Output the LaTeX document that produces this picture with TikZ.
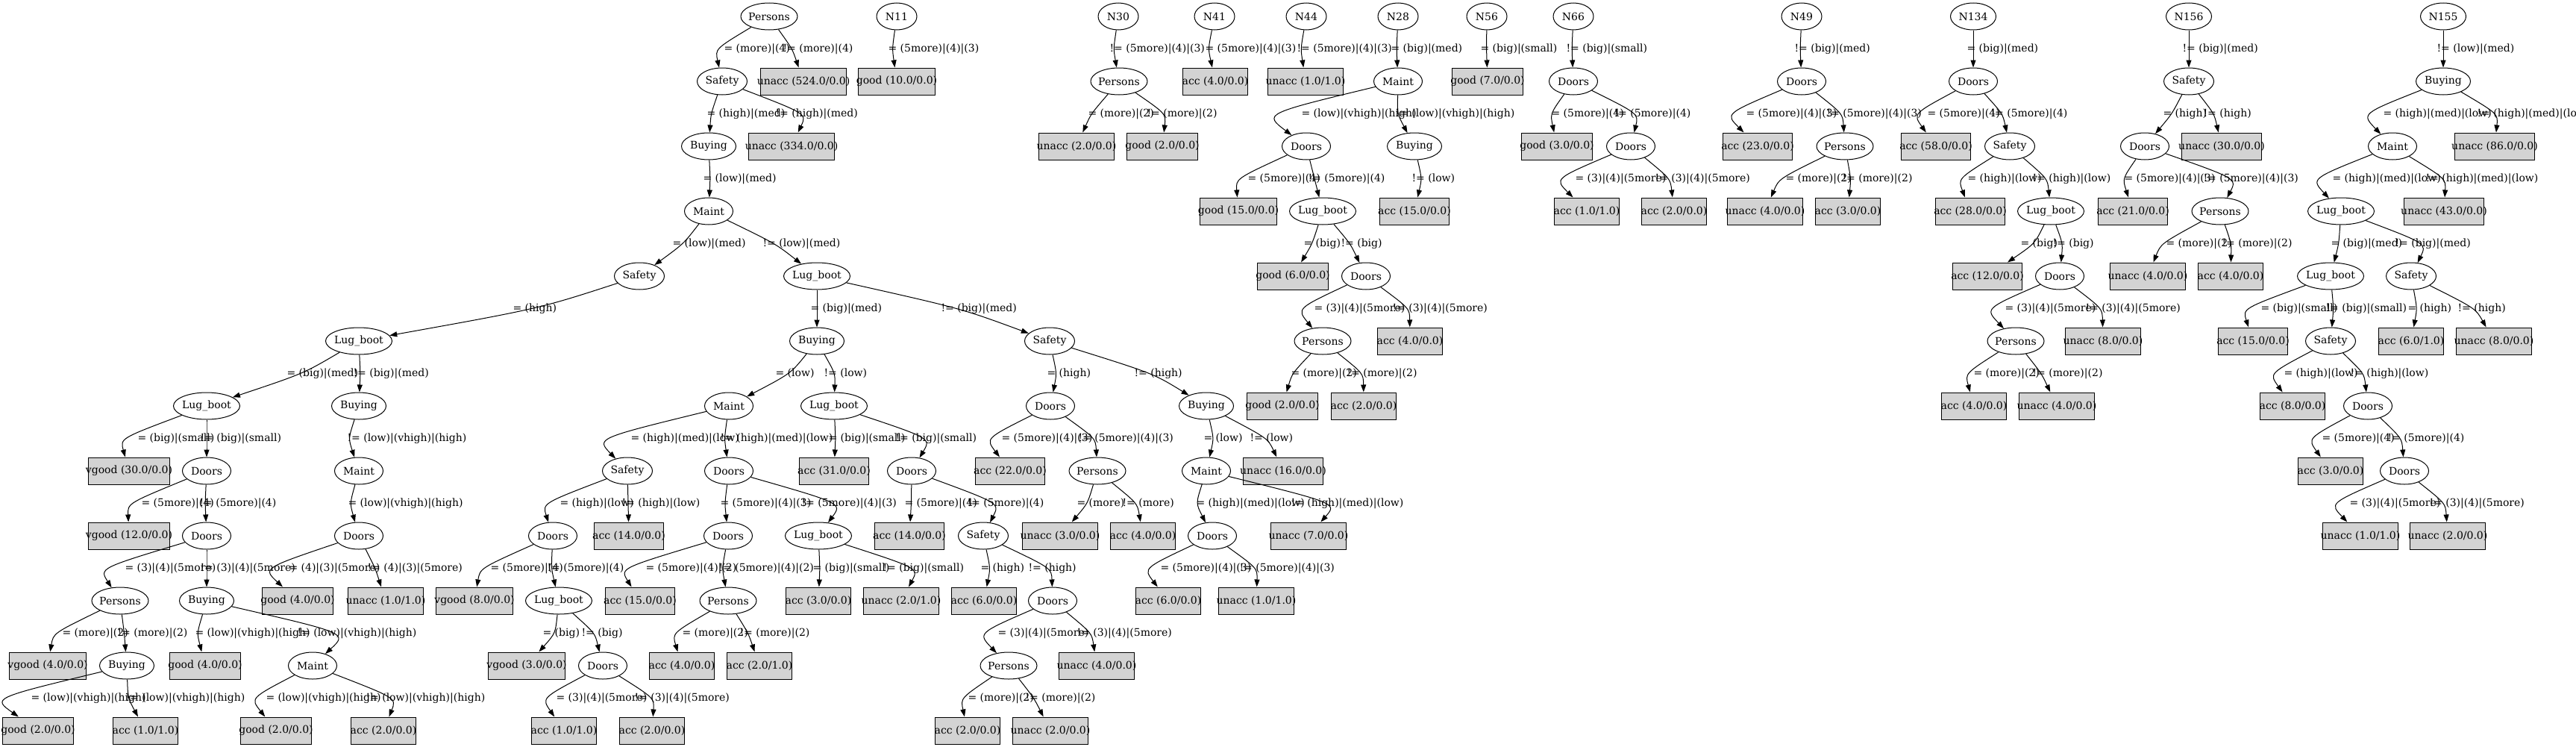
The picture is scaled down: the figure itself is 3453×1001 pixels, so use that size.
\documentclass[tikz,border=0pt]{standalone}
\usepackage{fontspec}
\setmainfont{DejaVu Serif}
\usetikzlibrary{shapes.geometric,arrows.meta,calc}
\definecolor{leafgray}{HTML}{D3D3D3}

% text that may stick out of its node
\newcommand{\zw}[1]{\makebox[0pt]{#1}}
% branch: from, to, label x, label
\newcommand{\tedge}[4]{%
  \path ($(#1)!0.5!(#2)$) coordinate (mid);
  \path (#3+9,0 |- mid) coordinate (via);
  \node[cond] (lab) at (#3,0 |- mid) {#4};
  \draw[branch] (#1) .. controls ($2*(via)-0.5*(#1)-0.5*(#2)$) .. (#2);
}

\begin{document}
\begin{tikzpicture}[x=1pt,y=-1pt,line width=1pt,font=\fontsize{14pt}{17pt}\selectfont,
  attr/.style={draw,ellipse,fill=white,inner sep=0pt,minimum height=36pt,minimum width=#1},
  leaf/.style={draw,fill=leafgray,inner sep=0pt,minimum height=36pt,minimum width=#1},
  cond/.style={anchor=west,inner sep=0pt},
  branch/.style={-{Triangle[length=10pt,width=7pt]}}]
\useasboundingbox (0,0) rectangle (3453,1001);

% tree rooted at Persons
\node[attr=76pt] (aPer) at (1031,22) {\zw{Persons}};
\node[attr=67pt] (aSaf) at (968,109) {\zw{Safety}};
\node[leaf=114.4pt] (aU524) at (1077,109) {\zw{unacc (524.0/0.0)}};
\node[attr=73pt] (aBuy) at (950,196) {\zw{Buying}};
\node[leaf=114.4pt] (aU334) at (1061,196) {\zw{unacc (334.0/0.0)}};
\node[attr=65pt] (aMai) at (950,283) {\zw{Maint}};
\node[attr=67pt] (aSaf2) at (857,370) {\zw{Safety}};
\node[attr=89pt] (aLug) at (1095,370) {\zw{Lug\_boot}};
\node[attr=89pt] (aLug2) at (481,457) {\zw{Lug\_boot}};
\node[attr=73pt] (aBuy2) at (1095,457) {\zw{Buying}};
\node[attr=67pt] (aSaf3) at (1407,457) {\zw{Safety}};
\node[attr=89pt] (aLug3) at (277,544) {\zw{Lug\_boot}};
\node[attr=73pt] (aBuy3) at (481,544) {\zw{Buying}};
\node[attr=65pt] (aMai2) at (977,544) {\zw{Maint}};
\node[attr=89pt] (aLug4) at (1118,544) {\zw{Lug\_boot}};
\node[attr=65pt] (aDoo) at (1408,544) {\zw{Doors}};
\node[attr=73pt] (aBuy4) at (1617,544) {\zw{Buying}};
\node[leaf=109.7pt] (aV30) at (173,631) {\zw{vgood (30.0/0.0)}};
\node[attr=65pt] (aDoo2) at (277,631) {\zw{Doors}};
\node[attr=65pt] (aMai3) at (481,631) {\zw{Maint}};
\node[attr=67pt] (aSaf4) at (841,631) {\zw{Safety}};
\node[attr=65pt] (aDoo3) at (977,631) {\zw{Doors}};
\node[leaf=93.4pt] (aA31) at (1118,631) {\zw{acc (31.0/0.0)}};
\node[attr=65pt] (aDoo4) at (1222,631) {\zw{Doors}};
\node[leaf=93.4pt] (aA22) at (1354,631) {\zw{acc (22.0/0.0)}};
\node[attr=76pt] (aPer2) at (1471,631) {\zw{Persons}};
\node[attr=65pt] (aMai4) at (1617,631) {\zw{Maint}};
\node[leaf=107.4pt] (aU16) at (1720,631) {\zw{unacc (16.0/0.0)}};
\node[leaf=109.7pt] (aV12) at (173,718) {\zw{vgood (12.0/0.0)}};
\node[attr=65pt] (aDoo5) at (277,718) {\zw{Doors}};
\node[attr=65pt] (aDoo6) at (481,718) {\zw{Doors}};
\node[attr=65pt] (aDoo7) at (741,718) {\zw{Doors}};
\node[leaf=93.4pt] (aA14) at (843,718) {\zw{acc (14.0/0.0)}};
\node[attr=65pt] (aDoo8) at (976,718) {\zw{Doors}};
\node[attr=89pt] (aLug5) at (1097,718) {\zw{Lug\_boot}};
\node[leaf=93.4pt] (aA14b) at (1219,718) {\zw{acc (14.0/0.0)}};
\node[attr=67pt] (aSaf5) at (1318,718) {\zw{Safety}};
\node[leaf=100.4pt] (aU3) at (1421,718) {\zw{unacc (3.0/0.0)}};
\node[leaf=86.4pt] (aA4) at (1532,718) {\zw{acc (4.0/0.0)}};
\node[attr=65pt] (aDoo9) at (1625,718) {\zw{Doors}};
\node[leaf=100.4pt] (aU7) at (1754,718) {\zw{unacc (7.0/0.0)}};
\node[attr=76pt] (aPer3) at (161,805) {\zw{Persons}};
\node[attr=73pt] (aBuy5) at (277,805) {\zw{Buying}};
\node[leaf=95.7pt] (aG4) at (399,805) {\zw{good (4.0/0.0)}};
\node[leaf=100.4pt] (aU1) at (517,805) {\zw{unacc (1.0/1.0)}};
\node[leaf=102.7pt] (aV8) at (636,805) {\zw{vgood (8.0/0.0)}};
\node[attr=89pt] (aLug6) at (749,805) {\zw{Lug\_boot}};
\node[leaf=93.4pt] (aA15) at (858,805) {\zw{acc (15.0/0.0)}};
\node[attr=76pt] (aPer4) at (976,805) {\zw{Persons}};
\node[leaf=86.4pt] (aA3) at (1097,805) {\zw{acc (3.0/0.0)}};
\node[leaf=100.4pt] (aU21) at (1208,805) {\zw{unacc (2.0/1.0)}};
\node[leaf=86.4pt] (aA6) at (1319,805) {\zw{acc (6.0/0.0)}};
\node[attr=65pt] (aDoo10) at (1411,805) {\zw{Doors}};
\node[leaf=86.4pt] (aA6b) at (1566,805) {\zw{acc (6.0/0.0)}};
\node[leaf=100.4pt] (aU1b) at (1684,805) {\zw{unacc (1.0/1.0)}};
\node[leaf=102.7pt] (aV4) at (64,892) {\zw{vgood (4.0/0.0)}};
\node[attr=73pt] (aBuy6) at (170,892) {\zw{Buying}};
\node[leaf=95.7pt] (aG4b) at (275,892) {\zw{good (4.0/0.0)}};
\node[attr=65pt] (aMai5) at (419,892) {\zw{Maint}};
\node[leaf=102.7pt] (aV3) at (706,892) {\zw{vgood (3.0/0.0)}};
\node[attr=65pt] (aDoo11) at (808,892) {\zw{Doors}};
\node[leaf=86.4pt] (aA4b) at (914,892) {\zw{acc (4.0/0.0)}};
\node[leaf=86.4pt] (aA21) at (1018,892) {\zw{acc (2.0/1.0)}};
\node[attr=76pt] (aPer5) at (1352,892) {\zw{Persons}};
\node[leaf=100.4pt] (aU4) at (1470,892) {\zw{unacc (4.0/0.0)}};
\node[leaf=95.7pt] (aG2) at (51,979) {\zw{good (2.0/0.0)}};
\node[leaf=86.4pt] (aA11) at (195,979) {\zw{acc (1.0/1.0)}};
\node[leaf=95.7pt] (aG2b) at (370,979) {\zw{good (2.0/0.0)}};
\node[leaf=86.4pt] (aA2) at (514,979) {\zw{acc (2.0/0.0)}};
\node[leaf=86.4pt] (aA11b) at (756,979) {\zw{acc (1.0/1.0)}};
\node[leaf=86.4pt] (aA2b) at (874,979) {\zw{acc (2.0/0.0)}};
\node[leaf=86.4pt] (aA2c) at (1297,979) {\zw{acc (2.0/0.0)}};
\node[leaf=100.4pt] (aU2) at (1408,979) {\zw{unacc (2.0/0.0)}};

\tedge{aPer}{aSaf}{970}{= (more)|(4)}
\tedge{aPer}{aU524}{1049}{!= (more)|(4)}
\tedge{aSaf}{aBuy}{947}{= (high)|(med)}
\tedge{aSaf}{aU334}{1039}{!= (high)|(med)}
\tedge{aBuy}{aMai}{942}{= (low)|(med)}
\tedge{aMai}{aSaf2}{901}{= (low)|(med)}
\tedge{aMai}{aLug}{1022}{!= (low)|(med)}
\tedge{aSaf2}{aLug2}{687}{= (high)}
\tedge{aLug}{aBuy2}{1086}{= (big)|(med)}
\tedge{aLug}{aSaf3}{1261}{!= (big)|(med)}
\tedge{aLug2}{aLug3}{384}{= (big)|(med)}
\tedge{aLug2}{aBuy3}{473}{!= (big)|(med)}
\tedge{aBuy2}{aMai2}{1039}{= (low)}
\tedge{aBuy2}{aLug4}{1104}{!= (low)}
\tedge{aSaf3}{aDoo}{1403}{= (high)}
\tedge{aSaf3}{aBuy4}{1520}{!= (high)}
\tedge{aLug3}{aV30}{184}{= (big)|(small)}
\tedge{aLug3}{aDoo2}{268}{!= (big)|(small)}
\tedge{aBuy3}{aMai3}{465}{!= (low)|(vhigh)|(high)}
\tedge{aMai2}{aSaf4}{845}{= (high)|(med)|(low)}
\tedge{aMai2}{aDoo3}{965}{!= (high)|(med)|(low)}
\tedge{aLug4}{aA31}{1110}{= (big)|(small)}
\tedge{aLug4}{aDoo4}{1200}{!= (big)|(small)}
\tedge{aDoo}{aA22}{1342}{= (5more)|(4)|(3)}
\tedge{aDoo}{aPer2}{1445}{!= (5more)|(4)|(3)}
\tedge{aBuy4}{aMai4}{1613}{= (low)}
\tedge{aBuy4}{aU16}{1675}{!= (low)}
\tedge{aDoo2}{aV12}{189}{= (5more)|(4)}
\tedge{aDoo2}{aDoo5}{267}{!= (5more)|(4)}
\tedge{aMai3}{aDoo6}{466}{= (low)|(vhigh)|(high)}
\tedge{aSaf4}{aDoo7}{750}{= (high)|(low)}
\tedge{aSaf4}{aA14}{833}{!= (high)|(low)}
\tedge{aDoo3}{aDoo8}{965}{= (5more)|(4)|(3)}
\tedge{aDoo3}{aLug5}{1074}{!= (5more)|(4)|(3)}
\tedge{aDoo4}{aA14b}{1212}{= (5more)|(4)}
\tedge{aDoo4}{aSaf5}{1296}{!= (5more)|(4)}
\tedge{aPer2}{aU3}{1443}{= (more)}
\tedge{aPer2}{aA4}{1504}{!= (more)}
\tedge{aMai4}{aDoo9}{1603}{= (high)|(med)|(low)}
\tedge{aMai4}{aU7}{1730}{!= (high)|(med)|(low)}
\tedge{aDoo5}{aPer3}{167}{= (3)|(4)|(5more)}
\tedge{aDoo5}{aBuy5}{268}{!= (3)|(4)|(5more)}
\tedge{aDoo6}{aG4}{387}{= (4)|(3)|(5more)}
\tedge{aDoo6}{aU1}{492}{!= (4)|(3)|(5more)}
\tedge{aDoo7}{aV8}{657}{= (5more)|(4)}
\tedge{aDoo7}{aLug6}{733}{!= (5more)|(4)}
\tedge{aDoo8}{aA15}{865}{= (5more)|(4)|(2)}
\tedge{aDoo8}{aPer4}{963}{!= (5more)|(4)|(2)}
\tedge{aLug5}{aA3}{1089}{= (big)|(small)}
\tedge{aLug5}{aU21}{1183}{!= (big)|(small)}
\tedge{aSaf5}{aA6}{1314}{= (high)}
\tedge{aSaf5}{aDoo10}{1378}{!= (high)}
\tedge{aDoo9}{aA6b}{1555}{= (5more)|(4)|(3)}
\tedge{aDoo9}{aU1b}{1661}{!= (5more)|(4)|(3)}
\tedge{aPer3}{aV4}{83}{= (more)|(2)}
\tedge{aPer3}{aBuy6}{157}{!= (more)|(2)}
\tedge{aBuy5}{aG4b}{261}{= (low)|(vhigh)|(high)}
\tedge{aBuy5}{aMai5}{398}{!= (low)|(vhigh)|(high)}
\tedge{aLug6}{aV3}{727}{= (big)}
\tedge{aLug6}{aDoo11}{779}{!= (big)}
\tedge{aPer4}{aA4b}{914}{= (more)|(2)}
\tedge{aPer4}{aA21}{991}{!= (more)|(2)}
\tedge{aDoo10}{aPer5}{1337}{= (3)|(4)|(5more)}
\tedge{aDoo10}{aU4}{1443}{!= (3)|(4)|(5more)}
\tedge{aBuy6}{aG2}{41}{= (low)|(vhigh)|(high)}
\tedge{aBuy6}{aA11}{168}{!= (low)|(vhigh)|(high)}
\tedge{aMai5}{aG2b}{356}{= (low)|(vhigh)|(high)}
\tedge{aMai5}{aA2}{490}{!= (low)|(vhigh)|(high)}
\tedge{aDoo11}{aA11b}{745}{= (3)|(4)|(5more)}
\tedge{aDoo11}{aA2b}{850}{!= (3)|(4)|(5more)}
\tedge{aPer5}{aA2c}{1297}{= (more)|(2)}
\tedge{aPer5}{aU2}{1374}{!= (more)|(2)}

% the small trees
\node[attr=54pt] (bN) at (1202,22) {\zw{N11}};
\node[leaf=102.7pt] (bG) at (1202,109) {\zw{good (10.0/0.0)}};
\tedge{bN}{bG}{1190}{= (5more)|(4)|(3)}

\node[attr=54pt] (cN) at (1499,22) {\zw{N30}};
\node[attr=76pt] (cPer) at (1500,109) {\zw{Persons}};
\node[leaf=100.4pt] (cU) at (1443,196) {\zw{unacc (2.0/0.0)}};
\node[leaf=95.7pt] (cG) at (1558,196) {\zw{good (2.0/0.0)}};
\tedge{cN}{cPer}{1487}{!= (5more)|(4)|(3)}
\tedge{cPer}{cU}{1458}{= (more)|(2)}
\tedge{cPer}{cG}{1537}{!= (more)|(2)}

\node[attr=54pt] (dN) at (1628,22) {\zw{N41}};
\node[leaf=86.4pt] (dA) at (1629,109) {\zw{acc (4.0/0.0)}};
\tedge{dN}{dA}{1615}{= (5more)|(4)|(3)}

\node[attr=54pt] (eN) at (1751,22) {\zw{N44}};
\node[leaf=100.4pt] (eU) at (1750,109) {\zw{unacc (1.0/1.0)}};
\tedge{eN}{eU}{1738}{!= (5more)|(4)|(3)}

\node[attr=54pt] (fN) at (1874,22) {\zw{N28}};
\node[attr=65pt] (fMai) at (1874,109) {\zw{Maint}};
\node[attr=65pt] (fDoo) at (1751,196) {\zw{Doors}};
\node[attr=73pt] (fBuy) at (1896,196) {\zw{Buying}};
\node[leaf=102.7pt] (fG15) at (1660,283) {\zw{good (15.0/0.0)}};
\node[attr=89pt] (fLug) at (1773,283) {\zw{Lug\_boot}};
\node[leaf=93.4pt] (fA15) at (1896,283) {\zw{acc (15.0/0.0)}};
\node[leaf=95.7pt] (fG6) at (1733,370) {\zw{good (6.0/0.0)}};
\node[attr=65pt] (fDoo2) at (1831,370) {\zw{Doors}};
\node[attr=76pt] (fPer) at (1773,457) {\zw{Persons}};
\node[leaf=86.4pt] (fA4) at (1890,457) {\zw{acc (4.0/0.0)}};
\node[leaf=95.7pt] (fG2) at (1719,544) {\zw{good (2.0/0.0)}};
\node[leaf=86.4pt] (fA2) at (1828,544) {\zw{acc (2.0/0.0)}};
\tedge{fN}{fMai}{1864}{= (big)|(med)}
\tedge{fMai}{fDoo}{1744}{= (low)|(vhigh)|(high)}
\tedge{fMai}{fBuy}{1870}{!= (low)|(vhigh)|(high)}
\tedge{fDoo}{fG15}{1672}{= (5more)|(4)}
\tedge{fDoo}{fLug}{1753}{!= (5more)|(4)}
\tedge{fBuy}{fA15}{1892}{!= (low)}
\tedge{fLug}{fG6}{1747}{= (big)}
\tedge{fLug}{fDoo2}{1797}{!= (big)}
\tedge{fDoo2}{fPer}{1761}{= (3)|(4)|(5more)}
\tedge{fDoo2}{fA4}{1866}{!= (3)|(4)|(5more)}
\tedge{fPer}{fG2}{1730}{= (more)|(2)}
\tedge{fPer}{fA2}{1805}{!= (more)|(2)}

\node[attr=54pt] (gN) at (1993,22) {\zw{N56}};
\node[leaf=95.7pt] (gG) at (1994,109) {\zw{good (7.0/0.0)}};
\tedge{gN}{gG}{1984}{= (big)|(small)}

\node[attr=54pt] (hN) at (2109,22) {\zw{N66}};
\node[attr=65pt] (hDoo) at (2109,109) {\zw{Doors}};
\node[leaf=95.7pt] (hG) at (2087,196) {\zw{good (3.0/0.0)}};
\node[attr=65pt] (hDoo2) at (2186,196) {\zw{Doors}};
\node[leaf=86.4pt] (hA1) at (2127,283) {\zw{acc (1.0/1.0)}};
\node[leaf=86.4pt] (hA2) at (2244,283) {\zw{acc (2.0/0.0)}};
\tedge{hN}{hDoo}{2099}{!= (big)|(small)}
\tedge{hDoo}{hG}{2079}{= (5more)|(4)}
\tedge{hDoo}{hDoo2}{2163}{!= (5more)|(4)}
\tedge{hDoo2}{hA1}{2111}{= (3)|(4)|(5more)}
\tedge{hDoo2}{hA2}{2218}{!= (3)|(4)|(5more)}

\node[attr=54pt] (iN) at (2415,22) {\zw{N49}};
\node[attr=65pt] (iDoo) at (2415,109) {\zw{Doors}};
\node[leaf=93.4pt] (iA23) at (2356,196) {\zw{acc (23.0/0.0)}};
\node[attr=76pt] (iPer) at (2473,196) {\zw{Persons}};
\node[leaf=100.4pt] (iU4) at (2366,283) {\zw{unacc (4.0/0.0)}};
\node[leaf=86.4pt] (iA3) at (2477,283) {\zw{acc (3.0/0.0)}};
\tedge{iN}{iDoo}{2405}{!= (big)|(med)}
\tedge{iDoo}{iA23}{2340}{= (5more)|(4)|(3)}
\tedge{iDoo}{iPer}{2448}{!= (5more)|(4)|(3)}
\tedge{iPer}{iU4}{2393}{= (more)|(2)}
\tedge{iPer}{iA3}{2469}{!= (more)|(2)}

\node[attr=61pt] (jN) at (2645,22) {\zw{N134}};
\node[attr=65pt] (jDoo) at (2645,109) {\zw{Doors}};
\node[leaf=93.4pt] (jA58) at (2595,196) {\zw{acc (58.0/0.0)}};
\node[attr=67pt] (jSaf) at (2694,196) {\zw{Safety}};
\node[leaf=93.4pt] (jA28) at (2641,283) {\zw{acc (28.0/0.0)}};
\node[attr=89pt] (jLug) at (2749,283) {\zw{Lug\_boot}};
\node[leaf=93.4pt] (jA12) at (2664,370) {\zw{acc (12.0/0.0)}};
\node[attr=65pt] (jDoo2) at (2761,370) {\zw{Doors}};
\node[attr=76pt] (jPer) at (2702,457) {\zw{Persons}};
\node[leaf=100.4pt] (jU8) at (2819,457) {\zw{unacc (8.0/0.0)}};
\node[leaf=86.4pt] (jA4) at (2646,544) {\zw{acc (4.0/0.0)}};
\node[leaf=100.4pt] (jU4) at (2757,544) {\zw{unacc (4.0/0.0)}};
\tedge{jN}{jDoo}{2636}{= (big)|(med)}
\tedge{jDoo}{jA58}{2583}{= (5more)|(4)}
\tedge{jDoo}{jSaf}{2668}{!= (5more)|(4)}
\tedge{jSaf}{jA28}{2637}{= (high)|(low)}
\tedge{jSaf}{jLug}{2724}{!= (high)|(low)}
\tedge{jLug}{jA12}{2708}{= (big)}
\tedge{jLug}{jDoo2}{2751}{!= (big)}
\tedge{jDoo2}{jPer}{2687}{= (3)|(4)|(5more)}
\tedge{jDoo2}{jU8}{2795}{!= (3)|(4)|(5more)}
\tedge{jPer}{jA4}{2645}{= (more)|(2)}
\tedge{jPer}{jU4}{2724}{!= (more)|(2)}

\node[attr=61pt] (kN) at (2934,22) {\zw{N156}};
\node[attr=67pt] (kSaf) at (2934,109) {\zw{Safety}};
\node[attr=65pt] (kDoo) at (2875,196) {\zw{Doors}};
\node[leaf=107.4pt] (kU30) at (2978,196) {\zw{unacc (30.0/0.0)}};
\node[leaf=93.4pt] (kA21) at (2859,283) {\zw{acc (21.0/0.0)}};
\node[attr=76pt] (kPer) at (2976,283) {\zw{Persons}};
\node[leaf=100.4pt] (kU4) at (2879,370) {\zw{unacc (4.0/0.0)}};
\node[leaf=86.4pt] (kA4) at (2990,370) {\zw{acc (4.0/0.0)}};
\tedge{kN}{kSaf}{2925}{!= (big)|(med)}
\tedge{kSaf}{kDoo}{2899}{= (high)}
\tedge{kSaf}{kU30}{2953}{!= (high)}
\tedge{kDoo}{kA21}{2847}{= (5more)|(4)|(3)}
\tedge{kDoo}{kPer}{2953}{!= (5more)|(4)|(3)}
\tedge{kPer}{kU4}{2903}{= (more)|(2)}
\tedge{kPer}{kA4}{2978}{!= (more)|(2)}

\node[attr=61pt] (lN) at (3275,22) {\zw{N155}};
\node[attr=73pt] (lBuy) at (3275,109) {\zw{Buying}};
\node[attr=65pt] (lMai) at (3207,196) {\zw{Maint}};
\node[leaf=107.4pt] (lU86) at (3344,196) {\zw{unacc (86.0/0.0)}};
\node[attr=89pt] (lLug) at (3138,283) {\zw{Lug\_boot}};
\node[leaf=107.4pt] (lU43) at (3276,283) {\zw{unacc (43.0/0.0)}};
\node[attr=89pt] (lLug2) at (3124,370) {\zw{Lug\_boot}};
\node[attr=67pt] (lSaf) at (3232,370) {\zw{Safety}};
\node[leaf=93.4pt] (lA15) at (3020,457) {\zw{acc (15.0/0.0)}};
\node[attr=67pt] (lSaf2) at (3124,457) {\zw{Safety}};
\node[leaf=86.4pt] (lA61) at (3232,457) {\zw{acc (6.0/1.0)}};
\node[leaf=100.4pt] (lU8) at (3343,457) {\zw{unacc (8.0/0.0)}};
\node[leaf=86.4pt] (lA8) at (3073,544) {\zw{acc (8.0/0.0)}};
\node[attr=65pt] (lDoo) at (3174,544) {\zw{Doors}};
\node[leaf=86.4pt] (lA3) at (3124,631) {\zw{acc (3.0/0.0)}};
\node[attr=65pt] (lDoo2) at (3223,631) {\zw{Doors}};
\node[leaf=100.4pt] (lU11) at (3164,718) {\zw{unacc (1.0/1.0)}};
\node[leaf=100.4pt] (lU2) at (3281,718) {\zw{unacc (2.0/0.0)}};
\tedge{lN}{lBuy}{3266}{!= (low)|(med)}
\tedge{lBuy}{lMai}{3194}{= (high)|(med)|(low)}
\tedge{lBuy}{lU86}{3320}{!= (high)|(med)|(low)}
\tedge{lMai}{lLug}{3126}{= (high)|(med)|(low)}
\tedge{lMai}{lU43}{3251}{!= (high)|(med)|(low)}
\tedge{lLug}{lLug2}{3124}{= (big)|(med)}
\tedge{lLug}{lSaf}{3210}{!= (big)|(med)}
\tedge{lLug2}{lA15}{3030}{= (big)|(small)}
\tedge{lLug2}{lSaf2}{3117}{!= (big)|(small)}
\tedge{lSaf}{lA61}{3227}{= (high)}
\tedge{lSaf}{lU8}{3294}{!= (high)}
\tedge{lSaf2}{lA8}{3061}{= (high)|(low)}
\tedge{lSaf2}{lDoo}{3150}{!= (high)|(low)}
\tedge{lDoo}{lA3}{3112}{= (5more)|(4)}
\tedge{lDoo}{lDoo2}{3200}{!= (5more)|(4)}
\tedge{lDoo2}{lU11}{3149}{= (3)|(4)|(5more)}
\tedge{lDoo2}{lU2}{3256}{!= (3)|(4)|(5more)}
\end{tikzpicture}
\end{document}
